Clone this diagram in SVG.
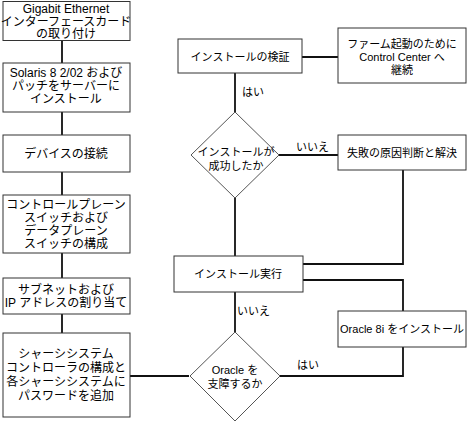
<svg xmlns="http://www.w3.org/2000/svg" width="467" height="422" viewBox="0 0 467 422">
<style>
.box{fill:#fff;stroke:#333;stroke-width:1}
.dia{fill:#fff;stroke:#555;stroke-width:1}
.t{font-family:"Liberation Sans","Noto Sans CJK JP",sans-serif;font-size:12px;fill:#000;text-anchor:middle}
.s{font-size:11px}
.lbl{font-family:"Liberation Sans","Noto Sans CJK JP",sans-serif;font-size:11px;fill:#000}
.c{fill:none;stroke:#111;stroke-width:1.8}
</style>
<rect width="467" height="422" fill="#fff"/>
<g id="connectors">
<path class="c" d="M62,40V63 M62,112V135 M62,172V195 M62,253V278 M62,314V333"/>
<path class="c" d="M130,376H189"/>
<path class="c" d="M302,57H338"/>
<path class="c" d="M235,73V112"/>
<path class="c" d="M279,155H338"/>
<path class="c" d="M235,198V256"/>
<path class="c" d="M403,170V264H303"/>
<path class="c" d="M303,280H403V311"/>
<path class="c" d="M403,347V376H278"/>
<path class="c" d="M235,292V332"/>
<text class="lbl" x="242" y="96">はい</text>
<text class="lbl" x="296" y="151">いいえ</text>
<text class="lbl" x="237" y="315">いいえ</text>
<text class="lbl" x="297" y="369">はい</text>
</g>
<g id="n1"><rect class="box" x="3" y="1.5" width="127" height="39"/>
<text class="t" x="66" y="13">Gigabit Ethernet</text>
<text class="t" x="66" y="25.5">インターフェースカード</text>
<text class="t" x="66" y="38">の取り付け</text></g>
<g id="n2"><rect class="box" x="3" y="63" width="127" height="49"/>
<text class="t" x="66" y="77">Solaris 8 2/02 および</text>
<text class="t" x="66" y="90">パッチをサーバーに</text>
<text class="t" x="66" y="103">インストール</text></g>
<g id="n3"><rect class="box" x="3" y="135" width="127" height="37"/>
<text class="t" x="66" y="158">デバイスの接続</text></g>
<g id="n4"><rect class="box" x="3" y="195" width="127" height="58"/>
<text class="t" x="66" y="209">コントロールプレーン</text>
<text class="t" x="66" y="222">スイッチおよび</text>
<text class="t" x="66" y="235">データプレーン</text>
<text class="t" x="66" y="248">スイッチの構成</text></g>
<g id="n5"><rect class="box" x="3" y="278" width="127" height="36"/>
<text class="t" x="66" y="294">サブネットおよび</text>
<text class="t" x="66" y="307">IP アドレスの割り当て</text></g>
<g id="n6"><rect class="box" x="3" y="333" width="127" height="84"/>
<text class="t" x="66" y="358">シャーシシステム</text>
<text class="t" x="66" y="372">コントローラの構成と</text>
<text class="t" x="66" y="386">各シャーシシステムに</text>
<text class="t" x="66" y="400">パスワードを追加</text></g>
<g id="n7"><rect class="box" x="178" y="39" width="124" height="34"/>
<text class="t s" x="240" y="61">インストールの検証</text></g>
<g id="n8"><rect class="box" x="338" y="28" width="128" height="55"/>
<text class="t s" x="402" y="48">ファーム起動のために</text>
<text class="t s" x="402" y="61">Control Center へ</text>
<text class="t s" x="402" y="74">継続</text></g>
<g id="n9"><polygon class="dia" points="235,112 279,155 235,198 191,155"/>
<text class="t s" x="236" y="156">インストールが</text>
<text class="t s" x="236" y="170">成功したか</text></g>
<g id="n10"><rect class="box" x="338" y="135" width="128" height="35"/>
<text class="t s" x="402" y="157">失敗の原因判断と解決</text></g>
<g id="n11"><rect class="box" x="174" y="256" width="129" height="36"/>
<text class="t s" x="238" y="278">インストール実行</text></g>
<g id="n12"><rect class="box" x="338" y="311" width="128" height="36"/>
<text class="t s" x="402" y="333">Oracle 8i をインストール</text></g>
<g id="n13"><polygon class="dia" points="235,332 280,376 235,421 190,376"/>
<text class="t s" x="235" y="374">Oracle を</text>
<text class="t s" x="235" y="388">支障するか</text></g>
</svg>
